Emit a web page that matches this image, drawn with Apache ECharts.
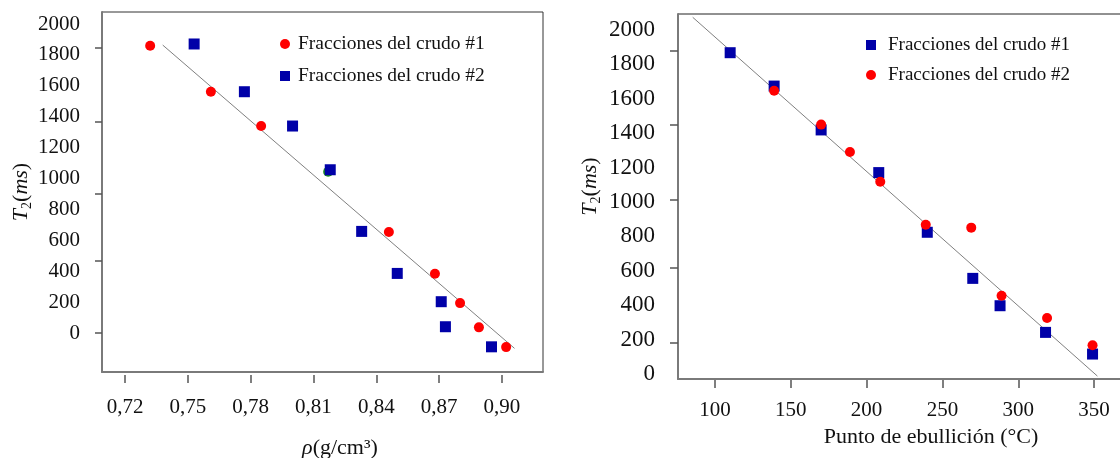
<!DOCTYPE html>
<html>
<head>
<meta charset="utf-8">
<script src="https://cdn.jsdelivr.net/npm/echarts@6/dist/echarts.min.js"></script>
<style>
  html, body { margin: 0; padding: 0; background: #fff; }
  #chart { width: 1120px; height: 458px; }
</style>
</head>
<body>
<div id="chart"></div>
<script>
// ---- Left panel: T2 vs density ----
const densityTicks = [0.72, 0.75, 0.78, 0.81, 0.84, 0.87, 0.90];
const t2LabelsLeft = [0, 200, 400, 600, 800, 1000, 1200, 1400, 1600, 1800, 2000];
const t2TickMarksLeft = [0, 466, 900, 1366, 1845];
// [density, T2]
const crude1Density = [[0.732, 1860], [0.761, 1562], [0.785, 1340], [0.846, 654], [0.868, 384], [0.880, 194], [0.889, 37], [0.902, -91]];
const crude2Density = [[0.753, 1871], [0.777, 1562], [0.800, 1340], [0.818, 1057], [0.833, 658], [0.850, 386], [0.871, 203], [0.873, 41], [0.895, -89]];
const extraDensity = [[0.817, 1044]];
const fitDensity = [[0.738, 1864], [0.906, -99]];

// ---- Right panel: T2 vs boiling point ----
const boilingTicks = [100, 150, 200, 250, 300, 350];
const t2LabelsRight = [0, 200, 400, 600, 800, 1000, 1200, 1400, 1600, 1800, 2000];
const t2TickMarksRight = [180, 616, 1012, 1448, 1878];
// [boiling point °C, T2]
const crude1Boiling = [[110, 1868], [139, 1674], [170, 1419], [208, 1171], [240, 824], [270, 556], [288, 397], [318, 242], [349, 116]];
const crude2Boiling = [[139, 1647], [170, 1450], [189, 1291], [209, 1118], [239, 868], [269, 851], [289, 455], [319, 326], [349, 167]];
const fitBoiling = [[85.3, 2074], [352.2, -12]];

const NAME1 = 'Fracciones del crudo #1';
const NAME2 = 'Fracciones del crudo #2';
// right panel uses the same labels; a trailing space keeps its legend separate
const NAME1R = NAME1 + ' ';
const NAME2R = NAME2 + ' ';

const SERIF = '"Liberation Serif", "Times New Roman", serif';
const TEXT = '#111';
const AXIS_GRAY = '#7a7a7a';
const RED = '#ff0000';
const BLUE = '#0000a8';

const richName = {
  it: { fontStyle: 'italic', fontFamily: SERIF, fontSize: 22, color: TEXT },
  sub: { fontFamily: SERIF, fontSize: 14, color: TEXT, padding: [12, 0, 0, 0] },
  up: { fontFamily: SERIF, fontSize: 22, color: TEXT }
};

function lineAxis(grid, min, max) {
  return {
    type: 'value', gridIndex: grid, min: min, max: max, position: 'bottom',
    axisLine: { show: true, onZero: false, lineStyle: { color: AXIS_GRAY, width: 2 } },
    axisTick: { show: false }, axisLabel: { show: false }, splitLine: { show: false }
  };
}

const plain = v => String(v);

const chart = echarts.init(document.getElementById('chart'));
chart.setOption({
  animation: false,
  backgroundColor: '#fff',
  grid: [
    { left: 102, top: 12, width: 441, height: 360, show: true, borderColor: '#333', borderWidth: 1, outerBoundsMode: 'none', containLabel: false },
    { left: 678, top: 14, width: 452, height: 365, show: true, borderColor: '#222', borderWidth: 1, outerBoundsMode: 'none', containLabel: false }
  ],
  legend: [
    {
      orient: 'vertical', left: 275, top: 29, itemWidth: 10, itemHeight: 10, itemGap: 12,
      data: [NAME1, NAME2],
      textStyle: { fontFamily: SERIF, fontSize: 19.5, color: TEXT, lineHeight: 20, padding: [0, 0, 0, 3] }
    },
    {
      orient: 'vertical', left: 861, top: 30, itemWidth: 10, itemHeight: 10, itemGap: 10,
      data: [NAME1R, NAME2R],
      textStyle: { fontFamily: SERIF, fontSize: 19, color: TEXT, lineHeight: 20, padding: [0, 0, 0, 7] }
    }
  ],
  xAxis: [
    lineAxis(0, 0.709, 0.9196),
    {
      type: 'value', gridIndex: 0, min: 0.709, max: 0.9196, position: 'bottom', offset: 3,
      axisLine: { show: false, onZero: false },
      axisTick: { show: true, customValues: densityTicks, length: 8, lineStyle: { color: '#555', width: 1.5 } },
      axisLabel: {
        customValues: densityTicks, margin: 22, fontFamily: SERIF, fontSize: 21, color: TEXT,
        formatter: v => v.toFixed(2).replace('.', ',')
      },
      splitLine: { show: false },
      name: '{it|ρ}(g/cm³)', nameLocation: 'middle', nameGap: 62,
      nameTextStyle: { fontFamily: SERIF, fontSize: 22, color: TEXT, padding: [0, 0, 0, 35], rich: richName }
    },
    lineAxis(1, 75.6, 373.7),
    {
      type: 'value', gridIndex: 1, min: 75.6, max: 373.7, position: 'bottom', offset: 1,
      axisLine: { show: false, onZero: false },
      axisTick: { show: true, customValues: boilingTicks, length: 8, lineStyle: { color: '#555', width: 1.5 } },
      axisLabel: { customValues: boilingTicks, margin: 20, fontFamily: SERIF, fontSize: 21, color: TEXT, formatter: plain },
      splitLine: { show: false },
      name: 'Punto de ebullición (°C)', nameLocation: 'middle', nameGap: 45,
      nameTextStyle: { fontFamily: SERIF, fontSize: 22, color: TEXT, padding: [0, 0, 0, 54] }
    }
  ],
  yAxis: [
    {
      type: 'value', gridIndex: 0, min: -252, max: 2078,
      axisLine: { show: true, onZero: false, lineStyle: { color: AXIS_GRAY, width: 2 } },
      axisTick: { show: true, customValues: t2TickMarksLeft, length: 7, lineStyle: { color: '#555', width: 1.5 } },
      axisLabel: { customValues: t2LabelsLeft, margin: 22, fontFamily: SERIF, fontSize: 21, color: TEXT, formatter: plain },
      splitLine: { show: false },
      name: '{it|T}{sub|2}{up|(}{it|ms}{up|)}', nameLocation: 'middle', nameGap: 68,
      nameTextStyle: { fontFamily: SERIF, fontSize: 22, color: TEXT, rich: richName }
    },
    {
      type: 'value', gridIndex: 1, min: -29, max: 2093,
      axisLine: { show: true, onZero: false, lineStyle: { color: AXIS_GRAY, width: 2 } },
      axisTick: { show: true, customValues: t2TickMarksRight, length: 8, lineStyle: { color: '#555', width: 1.5 } },
      axisLabel: { customValues: t2LabelsRight, margin: 23, fontFamily: SERIF, fontSize: 23, color: TEXT, formatter: plain },
      splitLine: { show: false },
      name: '{it|T}{sub|2}{up|(}{it|ms}{up|)}', nameLocation: 'middle', nameGap: 75,
      nameTextStyle: { fontFamily: SERIF, fontSize: 22, color: TEXT, padding: [0, 0, 0, 20], rich: richName }
    }
  ],
  series: [
    {
      type: 'line', xAxisIndex: 0, yAxisIndex: 0, data: fitDensity, showSymbol: false, silent: true, z: 1,
      lineStyle: { color: '#808080', width: 1 }
    },
    {
      type: 'scatter', xAxisIndex: 0, yAxisIndex: 0, data: extraDensity, symbol: 'circle', symbolSize: 10, z: 2,
      itemStyle: { color: '#1a8c1a', opacity: 1 }
    },
    {
      name: NAME2, type: 'scatter', xAxisIndex: 0, yAxisIndex: 0, data: crude2Density, symbol: 'rect', symbolSize: 11, z: 3,
      itemStyle: { color: BLUE, opacity: 1 }
    },
    {
      name: NAME1, type: 'scatter', xAxisIndex: 0, yAxisIndex: 0, data: crude1Density, symbol: 'circle', symbolSize: 10, z: 4,
      itemStyle: { color: RED, opacity: 1 }
    },
    {
      type: 'line', xAxisIndex: 2, yAxisIndex: 1, data: fitBoiling, showSymbol: false, silent: true, z: 1,
      lineStyle: { color: '#808080', width: 1 }
    },
    {
      name: NAME1R, type: 'scatter', xAxisIndex: 2, yAxisIndex: 1, data: crude1Boiling, symbol: 'rect', symbolSize: 11, z: 3,
      itemStyle: { color: BLUE, opacity: 1 }
    },
    {
      name: NAME2R, type: 'scatter', xAxisIndex: 2, yAxisIndex: 1, data: crude2Boiling, symbol: 'circle', symbolSize: 10, z: 4,
      itemStyle: { color: RED, opacity: 1 }
    }
  ]
});
</script>
</body>
</html>
